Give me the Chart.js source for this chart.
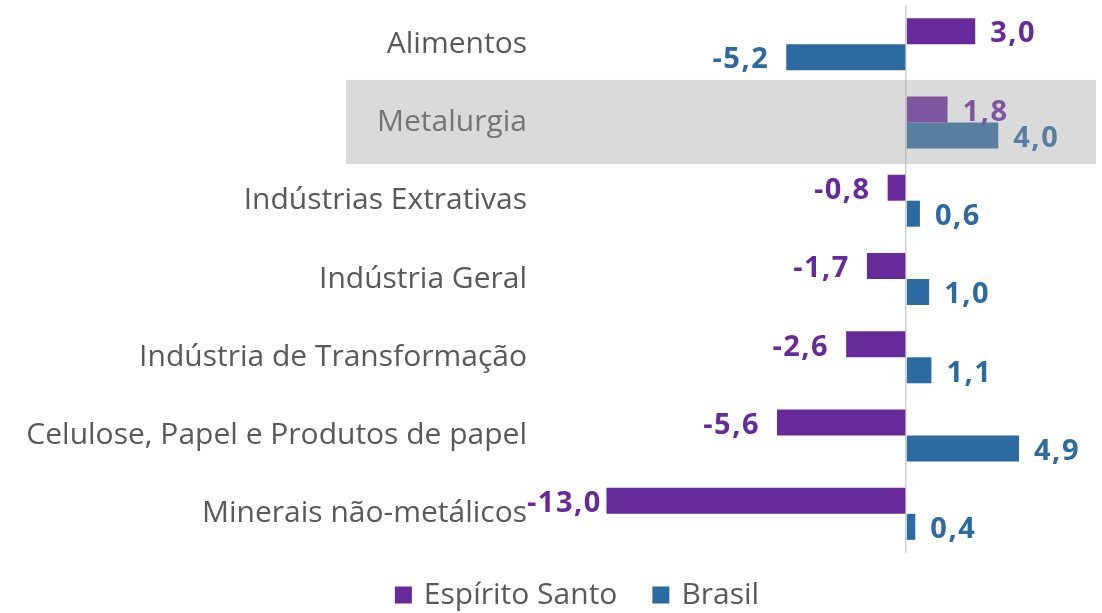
<!DOCTYPE html>
<html>
<head>
<meta charset="utf-8">
<script src="https://cdn.jsdelivr.net/npm/chart.js@4"></script>
<style>
  html, body { margin: 0; padding: 0; background: #fff; }
  #wrap { width: 1102px; height: 613px; }
</style>
</head>
<body>
<div id="wrap"><canvas id="myChart"></canvas></div>
<script>
// dados do gráfico
const categorias = ["Alimentos", "Metalurgia", "Indústrias Extrativas", "Indústria Geral", "Indústria de Transformação", "Celulose, Papel e Produtos de papel", "Minerais não-metálicos"];
const espiritoSanto = [3.0, 1.8, -0.8, -1.7, -2.6, -5.6, -13.0];
const brasil = [-5.2, 4.0, 0.6, 1.0, 1.1, 4.9, 0.4];
const serieNomes = ["Espírito Santo", "Brasil"];
const destaque = "Metalurgia";

const roxo = "#662a9b";
const azul = "#2c6aa1";
const cinzaTexto = "#595959";
const fonte = "'Open Sans', 'Noto Sans', sans-serif";

// rótulos de valor em cada barra
const rotulos = {
    id: "rotulos",
    afterDatasetsDraw(chart) {
        const ctx = chart.ctx;
        const area = chart.chartArea;
        ctx.save();
        ctx.font = "bold 29px " + fonte;
        ctx.letterSpacing = "1.5px";
        ctx.textBaseline = "middle";
        chart.data.datasets.forEach((ds, i) => {
            const meta = chart.getDatasetMeta(i);
            meta.data.forEach((bar, j) => {
                let v = ds.data[j];
                let txt = v.toFixed(1).replace(".", ",");
                let w = ctx.measureText(txt).width;
                ctx.fillStyle = ds.backgroundColor;
                ctx.textAlign = "left";
                if (v >= 0) {
                    ctx.fillText(txt, bar.x + 15, bar.y + 3);
                } else {
                    // nao deixa o rotulo entrar nos nomes das categorias
                    let x = Math.max(bar.x - 17 - w, area.left - 8);
                    ctx.fillText(txt, x, bar.y + 3);
                }
            });
        });
        ctx.restore();
    }
};

// faixa cinza sobre a categoria em destaque
const faixa = {
    id: "faixa",
    afterDraw(chart) {
        const ctx = chart.ctx;
        const y = chart.scales.y;
        let idx = categorias.indexOf(destaque);
        let yc = y.getPixelForValue(idx);
        ctx.save();
        ctx.fillStyle = "rgba(160,160,160,0.39)";
        ctx.fillRect(346, yc - 42.5, chart.width - 6 - 346, 84);
        ctx.restore();
    }
};

// legenda desenhada embaixo
const legenda = {
    id: "legenda",
    afterDraw(chart) {
        const ctx = chart.ctx;
        ctx.save();
        ctx.font = "30px " + fonte;
        ctx.textBaseline = "middle";
        let cores = [roxo, azul];
        let larguras = serieNomes.map(n => 17 + 12 + ctx.measureText(n).width);
        let gap = 35;
        let total = larguras[0] + larguras[1] + gap;
        let x = 577 - total / 2;
        let yc = 595;
        serieNomes.forEach((n, i) => {
            ctx.fillStyle = cores[i];
            ctx.fillRect(x, yc - 8.5, 17, 17);
            ctx.fillStyle = cinzaTexto;
            ctx.textAlign = "left";
            ctx.fillText(n, x + 29, yc);
            x += larguras[i] + gap;
        });
        ctx.restore();
    }
};

new Chart(document.getElementById("myChart"), {
    type: "bar",
    data: {
        labels: categorias,
        datasets: [
            { label: serieNomes[0], data: espiritoSanto, backgroundColor: roxo, categoryPercentage: 0.664, barPercentage: 1.0 },
            { label: serieNomes[1], data: brasil, backgroundColor: azul, categoryPercentage: 0.664, barPercentage: 1.0 }
        ]
    },
    options: {
        indexAxis: "y",
        responsive: true,
        maintainAspectRatio: false,
        animation: false,
        layout: { padding: { top: 5, bottom: 60, left: 0, right: 0 } },
        plugins: {
            legend: { display: false },
            tooltip: { enabled: false }
        },
        scales: {
            x: {
                min: -16.1,
                max: 8.5,
                border: { display: false },
                ticks: { display: false, stepSize: 1 },
                grid: {
                    drawTicks: false,
                    color: (c) => (c.tick && c.tick.value === 0 ? "#d0d0d0" : "rgba(0,0,0,0)"),
                    lineWidth: 1.5
                }
            },
            y: {
                border: { display: false },
                grid: { display: false, drawTicks: false },
                ticks: {
                    color: cinzaTexto,
                    font: { family: fonte, size: 30 },
                    padding: 8
                },
                afterFit(scale) {
                    scale.width = 535;
                    scale.paddingTop = 0;
                    scale.paddingBottom = 0;
                }
            }
        }
    },
    plugins: [rotulos, faixa, legenda]
});
</script>
</body>
</html>
